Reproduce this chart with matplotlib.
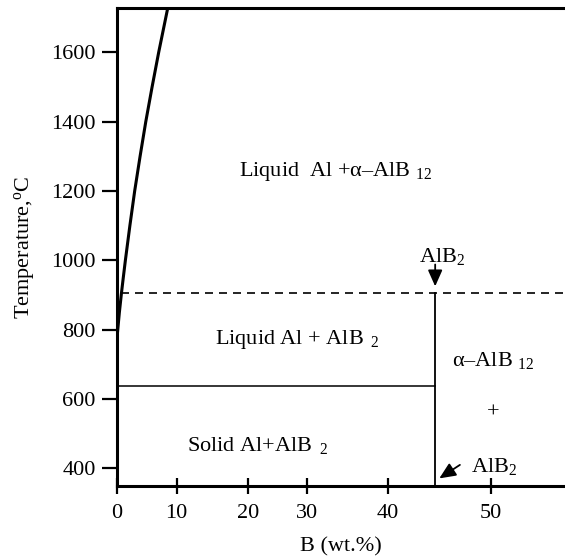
import numpy as np
import matplotlib
matplotlib.use("Agg")
import matplotlib.pyplot as plt

plt.rcParams['font.family'] = ['Liberation Serif', 'DejaVu Serif']
plt.rcParams['mathtext.fontset'] = 'custom'
plt.rcParams['mathtext.rm'] = 'Liberation Serif'
plt.rcParams['mathtext.it'] = 'Liberation Serif:italic'
plt.rcParams['mathtext.default'] = 'regular'

# x ticks (wt.% B) and temperature ticks
x_ticks = [0, 10, 20, 30, 40, 50]
y_ticks = [400, 600, 800, 1000, 1200, 1400, 1600]

# liquidus curve (wt.% B, deg C)
liq_b = [0.1, 0.45, 0.8, 1.1, 1.45, 2.2, 3.0, 3.9, 4.85, 5.9, 7.0, 8.5]
liq_t = [785, 850, 906, 950, 1000, 1100, 1200, 1300, 1400, 1500, 1600, 1727]

peritectic_t = 906   # dashed line
eutectic_t = 638     # solid horizontal
alb2_b = 44.6        # AlB2 line

# the original axis is drawn by hand: tick spacing is not even
x_tick_pos = np.array([116.7, 176.7, 247.7, 307.0, 387.7, 490.7])
xv = np.array(x_ticks, float)


def fwd(v):
    v = np.asarray(v, float)
    s0 = (x_tick_pos[1] - x_tick_pos[0]) / (xv[1] - xv[0])
    s1 = (x_tick_pos[-1] - x_tick_pos[-2]) / (xv[-1] - xv[-2])
    out = np.interp(v, xv, x_tick_pos)
    out = np.where(v < xv[0], x_tick_pos[0] + (v - xv[0]) * s0, out)
    out = np.where(v > xv[-1], x_tick_pos[-1] + (v - xv[-1]) * s1, out)
    return out


def inv(p):
    p = np.asarray(p, float)
    s0 = (x_tick_pos[1] - x_tick_pos[0]) / (xv[1] - xv[0])
    s1 = (x_tick_pos[-1] - x_tick_pos[-2]) / (xv[-1] - xv[-2])
    out = np.interp(p, x_tick_pos, xv)
    out = np.where(p < x_tick_pos[0], xv[0] + (p - x_tick_pos[0]) / s0, out)
    out = np.where(p > x_tick_pos[-1], xv[-1] + (p - x_tick_pos[-1]) / s1, out)
    return out


fig = plt.figure(figsize=(5.65, 5.6), dpi=100)
ax = fig.add_axes([0.2065, 0.1327, 0.7935, 0.8525])
ax.set_xscale('function', functions=(fwd, inv))
ax.set_xlim(0, 57.2)
ax.set_ylim(350, 1727)

k = 'black'
ax.plot(liq_b, liq_t, color=k, lw=2.2, solid_capstyle='butt',
        solid_joinstyle='round')
ax.plot([liq_b[2], 57.2], [peritectic_t, peritectic_t], color=k, lw=1.2,
        dashes=(4.8, 3.6))
ax.plot([0, alb2_b], [eutectic_t, eutectic_t], color=k, lw=1.1)
ax.plot([alb2_b, alb2_b], [350, peritectic_t], color=k, lw=1.3)

fs = 16
ax.text(33.5, 1255, 'Liquid  Al +\u03b1\u2013AlB $_{12}$', fontsize=fs,
        ha='center', va='center')
ax.text(28.4, 773, 'Liquid Al + AlB $_{\\,2}$', fontsize=fs,
        ha='center', va='center')
ax.text(21.65, 467, 'Solid Al+AlB $_{\\,2}$', fontsize=fs,
        ha='center', va='center')
ax.text(50.2, 712, '\u03b1\u2013AlB $_{12}$', fontsize=fs,
        ha='center', va='center')
ax.text(50.2, 560, '+', fontsize=fs, ha='center', va='center')
ax.text(45.3, 1012, 'AlB$_{2}$', fontsize=fs, ha='center', va='center')
ax.text(50.3, 405, 'AlB$_{2}$', fontsize=fs, ha='center', va='center')

ap = dict(arrowstyle='-|>,head_length=0.9,head_width=0.4', color=k,
          lw=1.3, shrinkA=0, shrinkB=0, mutation_scale=11)
ax.annotate('', xy=(alb2_b, 925), xytext=(alb2_b, 988), arrowprops=ap)
ax.annotate('', xy=(45.0, 371), xytext=(47.0, 410), arrowprops=ap)

for s in ['left', 'top', 'bottom']:
    ax.spines[s].set_linewidth(2.2)
ax.spines['right'].set_visible(False)

ax.set_xticks(x_ticks)
ax.set_xticklabels([str(v) for v in x_ticks])
ax.set_yticks(y_ticks)
ax.set_yticklabels([str(v) for v in y_ticks])
ax.tick_params(axis='y', direction='out', length=11, width=1.6,
               labelsize=fs, pad=4)
ax.tick_params(axis='x', direction='inout', length=11, width=1.6,
               labelsize=fs, pad=8)
ax.minorticks_off()

ax.set_xlabel('B (wt.%)', fontsize=fs, labelpad=10)
ax.set_ylabel('Temperature,$^{o}$C', fontsize=fs, labelpad=10)

fig.savefig('out.png', dpi=100)
